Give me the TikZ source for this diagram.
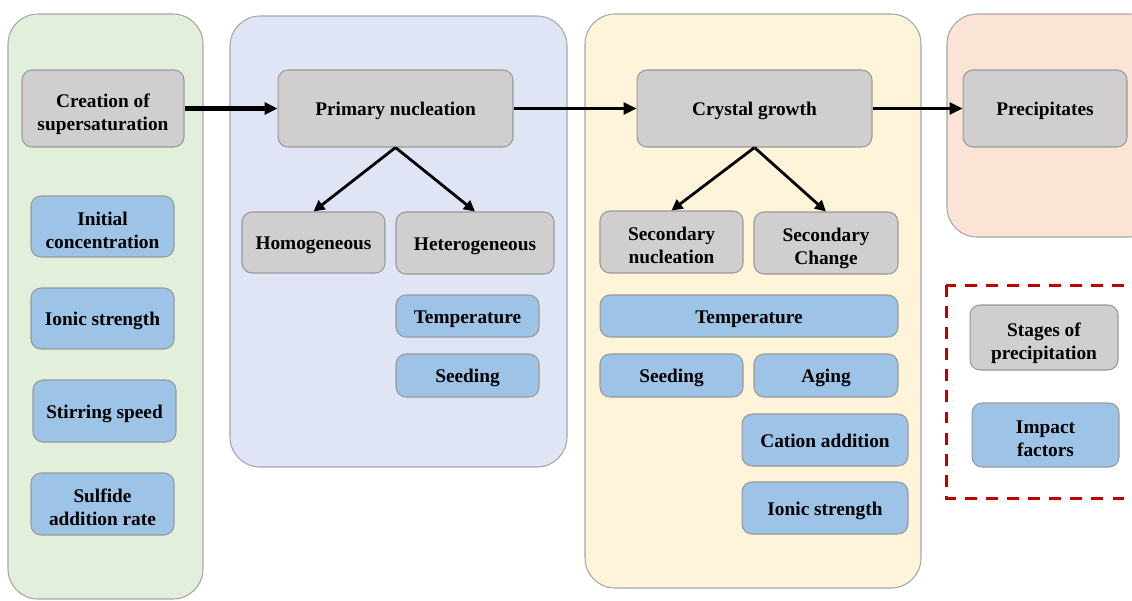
\documentclass[tikz,border=0pt]{standalone}
\usepackage{fontspec}
\setmainfont{Liberation Serif}
\usetikzlibrary{arrows.meta}

\definecolor{stagegray}{HTML}{D0CECE}
\definecolor{factorblue}{HTML}{9DC3E6}
\definecolor{panelgreen}{HTML}{E2EFDA}
\definecolor{panelblue}{HTML}{DFE5F4}
\definecolor{panelyellow}{HTML}{FEF4DA}
\definecolor{panelorange}{HTML}{FBE4D6}
\definecolor{legendred}{HTML}{C00000}

\begin{document}
\begin{tikzpicture}[x=0.02cm, y=-0.02cm,
    panel/.style={draw=gray!70, line width=0.6pt, rounded corners=0.6cm},
    box/.style={draw=gray!80, line width=0.6pt, rounded corners=0.2cm,
        align=center, inner sep=0pt, text height=8pt, text depth=0pt,
        font=\fontsize{11}{13}\selectfont\bfseries},
    twoline/.style={text height=24.8pt, text depth=0pt},
    stage/.style={box, fill=stagegray},
    factor/.style={box, fill=factorblue},
    flow/.style={-{Triangle[length=0.26cm, width=0.24cm]}, line width=1.6pt},
    split/.style={-{Triangle[length=0.22cm, width=0.22cm]}, line width=1.6pt}]
                \useasboundingbox (0,0) rectangle (1132,600);

                % Background panels
                \draw[panel, fill=panelgreen] (8,14) rectangle (203,599);
                \draw[panel, fill=panelblue] (230,16) rectangle (567,467);
                \draw[panel, fill=panelyellow] (585,14) rectangle (921,588);
                \draw[panel, fill=panelorange] (947,14) rectangle (1160,237);

                % Supersaturation column
                \node[stage, twoline, minimum width=3.24cm, minimum height=1.54cm] (create) at (103,108.5) {Creation of\\supersaturation};
                \node[factor, twoline, minimum width=2.86cm, minimum height=1.22cm] (initconc) at (102.5,226.5) {Initial\\concentration};
                \node[factor, minimum width=2.86cm, minimum height=1.22cm] (ionic1) at (102.5,318.5) {Ionic strength};
                \node[factor, minimum width=2.86cm, minimum height=1.24cm] (stirring) at (104.5,411) {Stirring speed};
                \node[factor, twoline, minimum width=2.86cm, minimum height=1.24cm] (sulfide) at (102.5,504) {Sulfide\\addition rate};

                % Primary nucleation
                \node[stage, minimum width=4.7cm, minimum height=1.54cm] (primary) at (395.5,108.5) {Primary nucleation};
                \node[stage, minimum width=2.86cm, minimum height=1.22cm] (homo) at (313.5,242.5) {Homogeneous};
                \node[stage, minimum width=3.16cm, minimum height=1.24cm] (hetero) at (475,243) {Heterogeneous};
                \node[factor, minimum width=2.86cm, minimum height=0.84cm] (temp1) at (467.5,316) {Temperature};
                \node[factor, minimum width=2.86cm, minimum height=0.86cm] (seed1) at (467.5,375.5) {Seeding};

                % Crystal growth
                \node[stage, minimum width=4.7cm, minimum height=1.54cm] (crystal) at (754.5,108.5) {Crystal growth};
                \node[stage, twoline, minimum width=2.86cm, minimum height=1.24cm] (secnuc) at (671.5,242) {Secondary\\nucleation};
                \node[stage, twoline, minimum width=2.88cm, minimum height=1.24cm] (secchange) at (826,243) {Secondary\\Change};
                \node[factor, minimum width=5.96cm, minimum height=0.84cm] (temp2) at (749,316) {Temperature};
                \node[factor, minimum width=2.86cm, minimum height=0.86cm] (seed2) at (671.5,375.5) {Seeding};
                \node[factor, minimum width=2.88cm, minimum height=0.86cm] (aging) at (826,375.5) {Aging};
                \node[factor, minimum width=3.32cm, minimum height=1.04cm] (cation) at (825,440) {Cation addition};
                \node[factor, minimum width=3.32cm, minimum height=1.04cm] (ionic2) at (825,508) {Ionic strength};

                % Precipitates
                \node[stage, minimum width=3.28cm, minimum height=1.54cm] (precip) at (1045,108.5) {Precipitates};

                % Legend
                \draw[legendred, line width=1.7pt, dash pattern=on 6.8pt off 5.2pt] (946,285) rectangle (1170,498);
                \node[stage, twoline, minimum width=2.96cm, minimum height=1.3cm] (stages) at (1044,337.5) {Stages of\\precipitation};
                \node[factor, twoline, minimum width=2.94cm, minimum height=1.28cm] (impact) at (1045.5,435) {Impact\\factors};

                % Flow arrows
                \draw[flow, line width=2.4pt] (create) -- (primary);
                \draw[flow] (primary) -- (crystal);
                \draw[flow] (crystal) -- (precip);
                \draw[split] (primary.south) -- (homo.north);
                \draw[split] (primary.south) -- (hetero.north);
                \draw[split] (crystal.south) -- (secnuc.north);
                \draw[split] (crystal.south) -- (secchange.north);
\end{tikzpicture}
\end{document}
